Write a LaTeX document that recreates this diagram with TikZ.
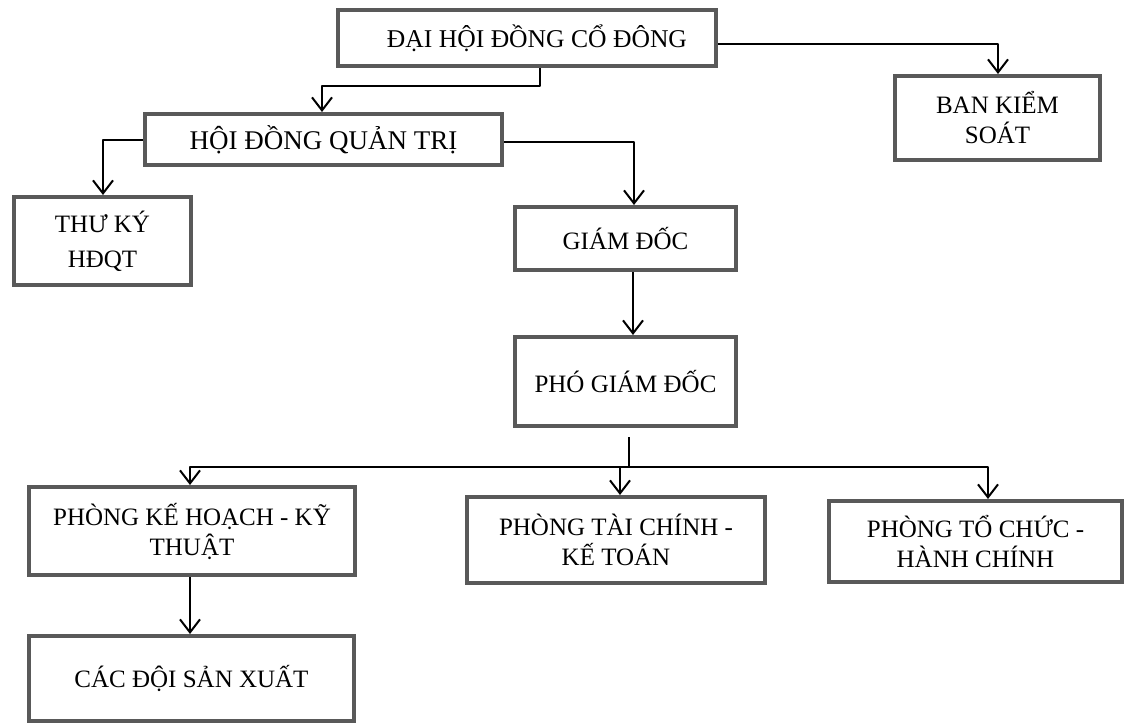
\documentclass[tikz,border=0pt]{standalone}
\usepackage{fontspec}
\setmainfont{Liberation Serif}
\usetikzlibrary{arrows.meta}
\begin{document}
\begin{tikzpicture}[x=1pt,y=-1pt,
  box/.style={draw=black!65, line width=4pt, fill=white, rectangle, align=center, inner sep=0pt,
    font=\fontsize{25}{30}\selectfont},
  conn/.style={draw=black, line width=2pt, line join=round},
  arr/.style={conn, -{Straight Barb[length=13pt,width=20pt]}}]
\useasboundingbox (0,0) rectangle (1127,726);
\fill[white] (0,0) rectangle (1127,726);

\node[box, minimum width=378pt, minimum height=56pt, font=\fontsize{25.6}{30}\selectfont] (dh) at (527,38) {\hspace*{20pt}ĐẠI HỘI ĐỒNG CỔ ĐÔNG};
\node[box, minimum width=205pt, minimum height=84pt] (bks) at (997.5,118) {BAN KIỂM\\SOÁT};
\node[box, minimum width=357pt, minimum height=51pt, font=\fontsize{27}{30}\selectfont] (hdqt) at (323.5,139.5) {HỘI ĐỒNG QUẢN TRỊ};
\node[box, minimum width=177pt, minimum height=88pt, font=\fontsize{25}{35}\selectfont] (tk) at (102.5,241) {THƯ KÝ\\HĐQT};
\node[box, minimum width=221pt, minimum height=63pt] (gd) at (625.5,238.5) {GIÁM ĐỐC};
\node[box, minimum width=221pt, minimum height=89pt] (pgd) at (625.5,381.5) {PHÓ GIÁM ĐỐC};
\node[box, minimum width=326pt, minimum height=88pt] (khkt) at (192,531) {PHÒNG KẾ HOẠCH - KỸ\\THUẬT};
\node[box, minimum width=325pt, minimum height=85pt] (csx) at (191.5,678.5) {CÁC ĐỘI SẢN XUẤT};
\node[box, minimum width=298pt, minimum height=86pt] (tckt) at (616,540) {PHÒNG TÀI CHÍNH -\\KẾ TOÁN};
\node[box, minimum width=293pt, minimum height=81pt] (tchc) at (975.5,541.5) {PHÒNG TỔ CHỨC -\\HÀNH CHÍNH};

\coordinate (c1) at (540,86);
\coordinate (c2) at (322,86);
\coordinate (c3) at (998,44);
\coordinate (c4) at (103,140);
\coordinate (c5) at (634,142);
\coordinate (c6) at (633,0);
\coordinate (c7) at (190,0);
\coordinate (bus) at (629,467);
\coordinate (bl) at (190,467);
\coordinate (bm) at (620,467);
\coordinate (br) at (988,467);

\draw[arr] (dh.south -| c1) -- (c1) -| (hdqt.north -| c2);
\draw[arr] (dh.east |- c3) -| (bks.north -| c3);
\draw[arr] (hdqt.west |- c4) -| (tk.north -| c4);
\draw[arr] (hdqt.east |- c5) -| (gd.north -| c5);
\draw[arr] (gd.south -| c6) -- (pgd.north -| c6);
\draw[conn] ([yshift=-9pt]pgd.south -| bus) -- (bus);
\draw[arr] (bus) -| (khkt.north -| bl);
\draw[arr] (bus) -| (tchc.north -| br);
\draw[arr] (bm) -- (tckt.north -| bm);
\draw[arr] (khkt.south -| c7) -- (csx.north -| c7);
\end{tikzpicture}
\end{document}
